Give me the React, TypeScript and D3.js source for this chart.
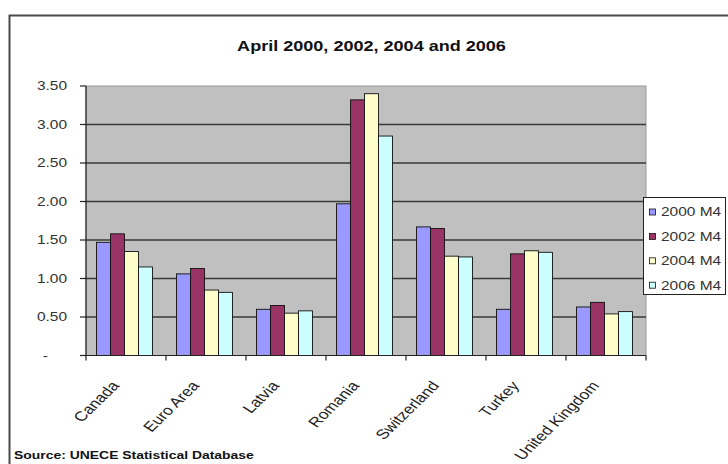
import React from "react";
import * as d3 from "d3";

const categories = ["Canada", "Euro Area", "Latvia", "Romania", "Switzerland", "Turkey", "United Kingdom"];
const seriesNames = ["2000 M4", "2002 M4", "2004 M4", "2006 M4"];
const values2000 = [1.47, 1.06, 0.6, 1.97, 1.67, 0.6, 0.63];
const values2002 = [1.58, 1.13, 0.65, 3.32, 1.65, 1.32, 0.69];
const values2004 = [1.35, 0.85, 0.55, 3.4, 1.29, 1.36, 0.54];
const values2006 = [1.15, 0.82, 0.58, 2.85, 1.28, 1.34, 0.57];
const seriesColors = ["#9999FF", "#993366", "#FFFFCC", "#CCFFFF"];
const yTicks = [0, 0.5, 1, 1.5, 2, 2.5, 3, 3.5];
const titleText = "April 2000, 2002, 2004 and 2006";
const sourceText = "Source: UNECE Statistical Database";

const allSeries = [values2000, values2002, values2004, values2006];

const W = 728;
const H = 464;
const plot = { left: 86, right: 646, top: 86, bottom: 355.5 };
const SX = 1.29;
const FONT = "'Liberation Sans', Arial, Helvetica, sans-serif";

export default function App() {
  const x = d3.scaleBand<string>().domain(categories).range([plot.left, plot.right]).padding(0);
  const inner = d3
    .scaleBand<string>()
    .domain(seriesNames)
    .range([10.5, 66.5])
    .padding(0);
  const y = d3.scaleLinear().domain([0, 3.5]).range([plot.bottom, plot.top]);
  const fmt = (v: number) => (v === 0 ? "-" : d3.format(".2f")(v));

  return (
    <svg
      width={W}
      height={H}
      viewBox={`0 0 ${W} ${H}`}
      style={{ position: "absolute", left: 0, top: 0, display: "block", background: "#fff" }}
      fontFamily={FONT}
    >
      {/* outer frame */}
      <rect x={9.5} y={15.5} width={740} height={470} fill="#fff" stroke="#4a4a4a" strokeWidth={2} />

      {/* title */}
      <text
        transform={`translate(${371.5},${50.5}) scale(${SX},1)`}
        textAnchor="middle"
        fontSize={14}
        fontWeight="bold"
        fill="#111"
      >
        {titleText}
      </text>

      {/* plot area */}
      <rect
        x={plot.left}
        y={plot.top}
        width={plot.right - plot.left}
        height={plot.bottom - plot.top}
        fill="#C0C0C0"
        stroke="#9a9a9a"
        strokeWidth={1}
      />

      {/* gridlines */}
      {yTicks
        .filter((t) => t > 0 && t < 3.5)
        .map((t) => (
          <line
            key={"g" + t}
            x1={plot.left}
            x2={plot.right}
            y1={y(t)}
            y2={y(t)}
            stroke="#3a3a3a"
            strokeWidth={1.3}
          />
        ))}

      {/* bars */}
      {categories.map((c, ci) =>
        allSeries.map((vals, si) => {
          const bx = (x(c) as number) + (inner(seriesNames[si]) as number);
          const bw = inner.bandwidth();
          return (
            <rect
              key={c + si}
              x={bx}
              y={y(vals[ci])}
              width={bw}
              height={y(0) - y(vals[ci])}
              fill={seriesColors[si]}
              stroke="#111"
              strokeWidth={0.9}
            />
          );
        })
      )}

      {/* y axis */}
      <line x1={plot.left} x2={plot.left} y1={plot.top} y2={plot.bottom} stroke="#222" strokeWidth={1.2} />
      {yTicks.map((t) => (
        <g key={"yt" + t}>
          <line x1={plot.left - 6} x2={plot.left} y1={y(t)} y2={y(t)} stroke="#222" strokeWidth={1.2} />
          <text
            transform={`translate(${t === 0 ? 48 : 67},${y(t) + 4.3}) scale(${SX},1)`}
            textAnchor="end"
            fontSize={12}
            fill="#333"
          >
            {fmt(t)}
          </text>
        </g>
      ))}

      {/* x axis */}
      <line x1={plot.left} x2={plot.right} y1={plot.bottom} y2={plot.bottom} stroke="#222" strokeWidth={1.2} />
      {[...categories.map((c) => x(c) as number), plot.right].map((px, i) => (
        <line key={"xt" + i} x1={px} x2={px} y1={plot.bottom} y2={plot.bottom + 5} stroke="#222" strokeWidth={1.2} />
      ))}
      {categories.map((c) => {
        const cx = (x(c) as number) + x.bandwidth() / 2;
        return (
          <text
            key={"xl" + c}
            transform={`translate(${cx - 6},${386}) scale(${SX},1) rotate(-51.3)`}
            textAnchor="end"
            fontSize={13.5}
            fill="#222"
          >
            {c}
          </text>
        );
      })}

      {/* legend */}
      <rect x={643.5} y={197.5} width={82} height={97} fill="#fff" stroke="#222" strokeWidth={1} />
      {seriesNames.map((s, i) => {
        const ly = 212 + i * 24.4;
        return (
          <g key={"lg" + s}>
            <rect x={649.5} y={ly - 3} width={6} height={6} fill={seriesColors[i]} stroke="#111" strokeWidth={0.8} />
            <text transform={`translate(${661},${ly + 4.3}) scale(${SX},1)`} fontSize={12} fill="#333">
              {s}
            </text>
          </g>
        );
      })}

      {/* source */}
      <text transform={`translate(${14},${458.5}) scale(${SX},1)`} fontSize={10.8} fontWeight="bold" fill="#111">
        {sourceText}
      </text>
    </svg>
  );
}
